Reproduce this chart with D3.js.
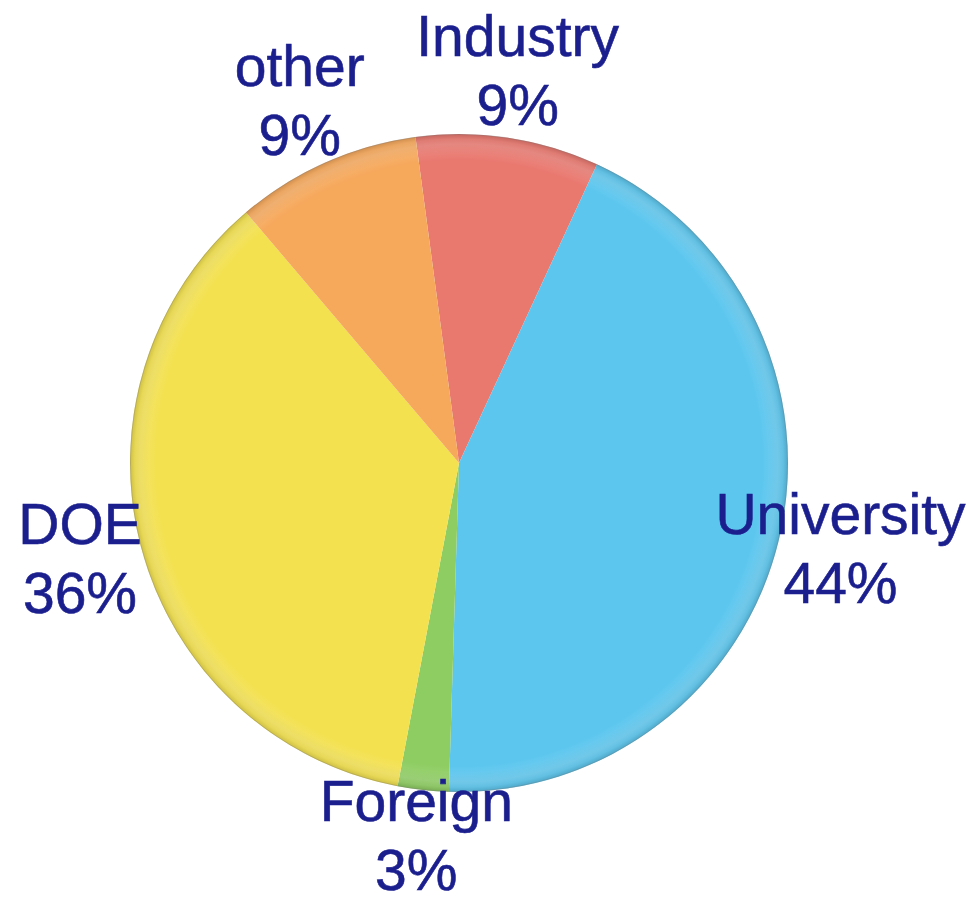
<!DOCTYPE html>
<html>
<head>
<meta charset="utf-8">
<script src="https://cdn.jsdelivr.net/npm/d3@7"></script>
<style>
  html, body { margin: 0; padding: 0; background: #fff; }
  svg { display: block; }
  .lbl { font-family: "Liberation Sans", Arial, Helvetica, sans-serif; font-size: 57px;
         fill: #1b1f8e; stroke: #1b1f8e; stroke-width: 0.6px; }
</style>
</head>
<body>
<div id="chart"></div>
<script>
// slices, clockwise from the top
const categories = ["Industry", "University", "Foreign", "DOE", "other"];
const shares     = [9.0, 43.6, 2.5, 35.8, 9.1];
const colors     = ["#e9786f", "#5cc6ee", "#8ecd62", "#f3e14f", "#f6a85b"];

const width = 971, height = 906;
const cx = 459, cy = 463, radius = 329;

const svg = d3.select("#chart").append("svg")
  .attr("width", width).attr("height", height);

const defs = svg.append("defs");
// soft rim shading, like the glossy original
const rim = defs.append("radialGradient").attr("id", "rim")
  .attr("cx", "50%").attr("cy", "50%").attr("r", "50%");
rim.append("stop").attr("offset", "0.94").attr("stop-color", "#000").attr("stop-opacity", 0);
rim.append("stop").attr("offset", "0.985").attr("stop-color", "#000").attr("stop-opacity", 0.05);
rim.append("stop").attr("offset", "1").attr("stop-color", "#000").attr("stop-opacity", 0.15);

const hi = defs.append("radialGradient").attr("id", "hi")
  .attr("cx", "50%").attr("cy", "50%").attr("r", "50%");
hi.append("stop").attr("offset", "0.92").attr("stop-color", "#fff").attr("stop-opacity", 0);
hi.append("stop").attr("offset", "0.97").attr("stop-color", "#fff").attr("stop-opacity", 0.15);
hi.append("stop").attr("offset", "1").attr("stop-color", "#fff").attr("stop-opacity", 0);

const g = svg.append("g").attr("transform", `translate(${cx},${cy})`);

const data = categories.map((c, i) => ({ name: c, value: shares[i], color: colors[i] }));

const pie = d3.pie()
  .sort(null)
  .value(d => d.value)
  .startAngle(-7.6 * Math.PI / 180)
  .endAngle(2 * Math.PI - 7.6 * Math.PI / 180);

const arcs = pie(data);
const arc = d3.arc().innerRadius(0).outerRadius(radius);
const labelArc = d3.arc().innerRadius(392).outerRadius(392);

g.selectAll("path.slice")
  .data(arcs)
  .join("path")
  .attr("class", "slice")
  .attr("d", arc)
  .attr("fill", d => d.data.color);

// shading overlays
g.append("circle").attr("r", radius).attr("fill", "url(#hi)");
g.append("circle").attr("r", radius).attr("fill", "url(#rim)");
g.append("circle").attr("r", radius - 0.5).attr("fill", "none")
  .attr("stroke", "#7a7a7a").attr("stroke-opacity", 0.3).attr("stroke-width", 1);

// labels: name + rounded percent (kept inside the canvas at the bottom)
const line1 = -19, line2 = 50;
const maxY = height - cy - 16 - line2;
const lbl = g.selectAll("text.lbl")
  .data(arcs)
  .join("text")
  .attr("class", "lbl")
  .attr("text-anchor", "middle")
  .attr("transform", d => {
    const [x, y] = labelArc.centroid(d);
    return `translate(${x},${Math.min(y, maxY)})`;
  });
lbl.append("tspan").attr("x", 0).attr("y", line1).text(d => d.data.name);
lbl.append("tspan").attr("x", 0).attr("y", line2).text(d => Math.round(d.data.value) + "%");
</script>
</body>
</html>
